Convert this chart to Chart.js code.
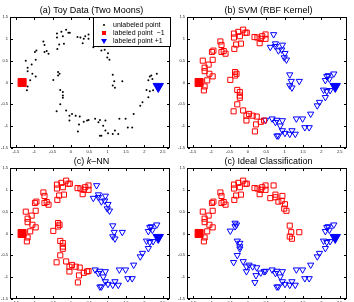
<!DOCTYPE html>
<html>
<head>
<meta charset="utf-8">
<script src="https://cdn.jsdelivr.net/npm/chart.js@4.4.1/dist/chart.umd.min.js"></script>
<style>
  body { margin: 0; background: #fff; width: 354px; height: 302px; overflow: hidden; position: relative;
         font-family: "Liberation Sans", Arial, Helvetica, sans-serif; }
  .panel { position: absolute; width: 177px; height: 156px; }
  .panel canvas { position: absolute; left: 0; top: 0; }
  .title { position: absolute; left: 10px; width: 163px; top: 5px; text-align: center;
           font-size: 9px; line-height: 11px; color: #000; white-space: nowrap; }
  .legend { position: absolute; left: 93px; top: 17px; width: 78px; height: 30px; box-sizing: border-box;
            border: 1px solid #000; background: #fff; font-size: 7px; color: #000; }
  .legend .row { position: absolute; left: 0; height: 8px; line-height: 8px; white-space: pre; }
  .legend .row span { position: absolute; left: 19px; top: 0; }
  .mk { position: absolute; }
  .dot { left: 9px; top: 3px; width: 2px; height: 2px; border-radius: 1px; background: #000; }
  .sq { left: 8px; top: 2px; width: 4px; height: 4px; background: #f00; }
  .tri { left: 7px; top: 2px; width: 0; height: 0; border-left: 3px solid transparent;
         border-right: 3px solid transparent; border-top: 5px solid #00f; }
</style>
</head>
<body>

<div class="panel" style="left:0;top:0"><canvas id="pa" width="177" height="156"></canvas>
  <div class="title">(a) Toy Data (Two Moons)</div>
  <div class="legend">
    <div class="row" style="top:3px"><div class="mk dot"></div><span>unlabeled point</span></div>
    <div class="row" style="top:11px"><div class="mk sq"></div><span>labeled point  −1</span></div>
    <div class="row" style="top:19px"><div class="mk tri"></div><span>labeled point +1</span></div>
  </div>
</div>
<div class="panel" style="left:177px;top:0"><canvas id="pb" width="177" height="156"></canvas>
  <div class="title">(b) SVM  (RBF Kernel)</div>
</div>
<div class="panel" style="left:0;top:151px"><canvas id="pc" width="177" height="156"></canvas>
  <div class="title">(c) <i>k</i>–NN</div>
</div>
<div class="panel" style="left:177px;top:151px"><canvas id="pd" width="177" height="156"></canvas>
  <div class="title">(c) Ideal Classification</div>
</div>

<script>
const xTicks = [-1.5, -1, -0.5, 0, 0.5, 1, 1.5, 2, 2.5];
const yTicks = [-1.5, -1, -0.5, 0, 0.5, 1, 1.5];

// upper moon (true class -1)
const upperMoon = [
  [-1.23, 0.50], [-1.18, 0.34], [-1.18, 0.26], [-1.07, 0.41], [-1.05, 0.20], [-1.18, -0.09],
  [-1.20, -0.18], [-1.11, 0.05], [-0.96, 0.52], [-0.96, 0.14], [-0.98, 0.70], [-0.94, 0.73],
  [-0.75, 0.94], [-0.72, 0.86], [-0.72, 0.70], [-0.61, 0.66], [-0.66, 0.72], [-0.38, 1.12],
  [-0.38, 1.03], [-0.22, 1.06], [-0.26, 1.16], [-0.13, 1.21], [-0.07, 1.14], [-0.03, 1.14],
  [-0.32, 0.87], [-0.19, 0.89], [-0.37, 0.77], [0.18, 1.04], [0.26, 1.03], [0.32, 0.90],
  [0.39, 1.06], [0.48, 1.10], [0.48, 1.00], [0.35, 1.00], [0.70, 1.10], [0.75, 0.89],
  [0.75, 0.83], [0.61, 0.81], [0.83, 0.73], [0.94, 0.86], [0.92, 0.75], [1.01, 0.67],
  [0.99, 0.57], [1.05, 0.52], [1.14, 0.18], [1.18, 0.03], [1.14, -0.07], [1.20, -0.12],
  [1.40, 0.03]
];

// lower moon (true class +1)
const lowerMoon = [
  [-0.35, 0.24], [-0.31, 0.20], [-0.35, 0.16], [-0.48, 0.06], [-0.29, -0.17], [-0.22, -0.22],
  [-0.22, -0.30], [-0.22, -0.35], [-0.29, -0.50], [-0.39, -0.66], [-0.13, -0.64], [-0.04, -0.76],
  [0.03, -0.72], [-0.04, -0.87], [0.13, -0.76], [0.24, -0.78], [0.22, -0.96], [0.19, -1.12],
  [0.35, -0.90], [0.44, -0.87], [0.48, -0.86], [0.66, -0.83], [0.75, -0.91], [0.79, -0.86],
  [0.94, -0.87], [0.79, -1.22], [0.83, -1.22], [0.94, -1.10], [1.01, -1.16], [1.14, -1.18],
  [1.20, -1.10], [1.29, -1.18], [0.88, -0.99], [1.32, -0.83], [1.49, -0.83], [1.55, -1.03],
  [1.67, -1.03], [1.71, -0.72], [1.89, -0.53], [1.95, -0.45], [2.11, -0.34], [2.15, -0.20],
  [2.06, -0.17], [2.24, -0.18], [2.11, 0.05], [2.15, 0.14], [2.19, 0.16], [2.22, 0.08],
  [2.34, 0.20]
];

const labeledMinus = [[-1.33, 0.0]];
const labeledPlus = [[2.38, -0.09]];

// indices that each method got wrong
const svmUpperAsPlus = [34, 35, 36, 37, 38, 39, 40, 41, 42, 43, 44, 45, 46, 47, 48];
const svmLowerAsMinus = [0, 1, 2, 3, 4, 5, 6, 7, 8, 9, 10, 11, 12, 13, 14, 15, 16, 17, 18, 19];
const knnUpperAsPlus = [34, 35, 36, 37, 38, 39, 40, 41, 42, 43, 44, 45, 46, 47, 48];
const knnLowerAsMinus = [0, 1, 2, 3, 4, 5, 6, 7, 8, 9, 10, 11, 12, 13, 14, 15, 16, 17, 18, 19, 20];

const FONT = "'Liberation Sans', Arial, sans-serif";
const toXY = pts => pts.map(p => ({ x: p[0], y: p[1] }));

function classify(upperPlus, lowerMinus) {
    const minus = [], plus = [];
    upperMoon.forEach((p, i) => (upperPlus.includes(i) ? plus : minus).push(p));
    lowerMoon.forEach((p, i) => (lowerMinus.includes(i) ? minus : plus).push(p));
    return { minus, plus };
}

function labeledSets() {
    return [
        { label: 'labeled point -1', data: toXY(labeledMinus), pointStyle: 'rect', pointRadius: 5.7,
          backgroundColor: '#f00', borderColor: '#f00', pointBorderWidth: 1 },
        { label: 'labeled point +1', data: toXY(labeledPlus), pointStyle: 'triangle', pointRotation: 180,
          pointRadius: 6, backgroundColor: '#00f', borderColor: '#00f', pointBorderWidth: 1 }
    ];
}

function resultSets(res) {
    return [
        { label: '-1', data: toXY(res.minus), pointStyle: 'rect', pointRadius: 3.6,
          backgroundColor: 'rgba(0,0,0,0)', borderColor: '#f00', pointBorderWidth: 1 },
        { label: '+1', data: toXY(res.plus), pointStyle: 'triangle', pointRotation: 180, pointRadius: 3.6,
          backgroundColor: 'rgba(0,0,0,0)', borderColor: '#00f', pointBorderWidth: 1 }
    ].concat(labeledSets());
}

const axesBox = {
    id: 'axesBox',
    afterDraw(chart) {
        const { ctx, chartArea: a, scales } = chart;
        ctx.save();
        ctx.strokeStyle = '#000';
        ctx.lineWidth = 1;
        ctx.strokeRect(a.left + 0.5, a.top + 0.5, a.right - a.left - 1, a.bottom - a.top - 1);
        ctx.beginPath();
        xTicks.forEach(v => {
            const px = Math.round(scales.x.getPixelForValue(v)) + 0.5;
            ctx.moveTo(px, a.bottom - 1); ctx.lineTo(px, a.bottom - 3);
            ctx.moveTo(px, a.top + 1); ctx.lineTo(px, a.top + 3);
        });
        yTicks.forEach(v => {
            const py = Math.round(scales.y.getPixelForValue(v)) + 0.5;
            ctx.moveTo(a.left + 1, py); ctx.lineTo(a.left + 3, py);
            ctx.moveTo(a.right - 1, py); ctx.lineTo(a.right - 3, py);
        });
        ctx.stroke();
        ctx.restore();
    }
};

function makePanel(id, datasets) {
    return new Chart(document.getElementById(id), {
        type: 'scatter',
        data: { datasets: datasets },
        options: {
            responsive: false,
            animation: false,
            devicePixelRatio: 1,
            layout: { padding: { top: 17, right: 4, left: 0, bottom: 0 } },
            plugins: { legend: { display: false }, tooltip: { enabled: false }, title: { display: false } },
            scales: {
                x: {
                    type: 'linear', min: -1.66, max: 2.7,
                    grid: { display: false, drawTicks: false },
                    border: { display: false },
                    ticks: { font: { size: 4, family: FONT }, color: '#222', padding: 1,
                             maxRotation: 0, autoSkip: false, callback: v => String(v) },
                    afterBuildTicks: s => { s.ticks = xTicks.map(v => ({ value: v })); },
                    afterFit: s => { s.height = 8; s.paddingLeft = 0; s.paddingRight = 0; }
                },
                y: {
                    type: 'linear', min: -1.5, max: 1.5,
                    grid: { display: false, drawTicks: false },
                    border: { display: false },
                    ticks: { font: { size: 4, family: FONT }, color: '#222', padding: 2,
                             autoSkip: false, callback: v => String(v) },
                    afterBuildTicks: s => { s.ticks = yTicks.map(v => ({ value: v })); },
                    afterFit: s => { s.width = 10; s.paddingTop = 0; s.paddingBottom = 0; }
                }
            }
        },
        plugins: [axesBox]
    });
}

makePanel('pa', [
    { label: 'unlabeled point', data: toXY(upperMoon.concat(lowerMoon)), pointStyle: 'circle',
      pointRadius: 1, backgroundColor: '#000', borderColor: '#000', pointBorderWidth: 0 }
].concat(labeledSets()));

makePanel('pb', resultSets(classify(svmUpperAsPlus, svmLowerAsMinus)));
makePanel('pc', resultSets(classify(knnUpperAsPlus, knnLowerAsMinus)));
makePanel('pd', resultSets(classify([], [])));
</script>
</body>
</html>
